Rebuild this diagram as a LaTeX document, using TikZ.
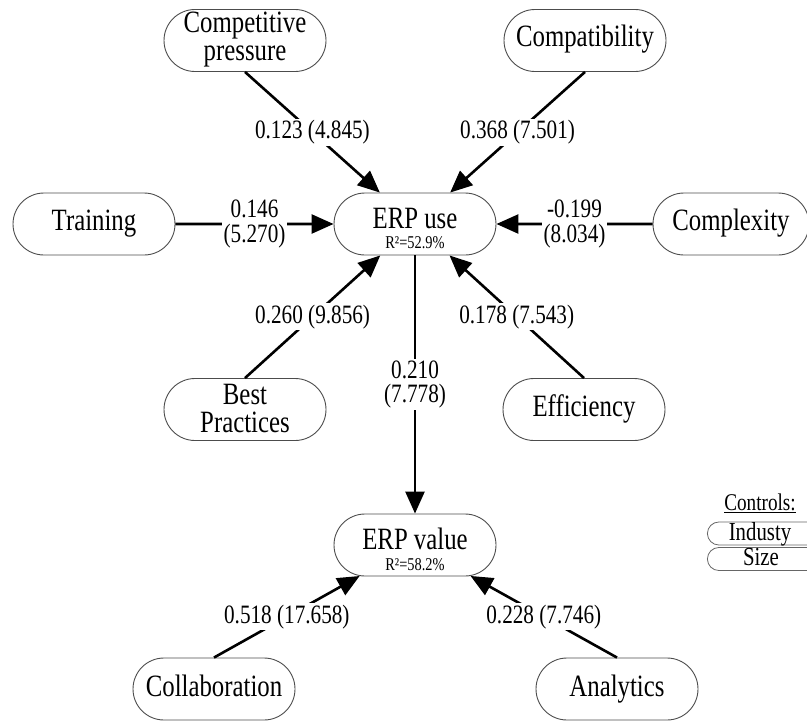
\documentclass[tikz,border=0pt]{standalone}
\usepackage{fontspec}
\setmainfont{Liberation Serif}[FakeStretch=0.8]
\usetikzlibrary{shapes.misc,arrows.meta,calc}
\begin{document}
\begin{tikzpicture}[x=1pt,y=-1pt,
  factor/.style={rounded rectangle, draw=black!70, line width=0.9pt,
    minimum width=162pt, minimum height=62pt, inner sep=0pt},
  ctrlbox/.style={rounded rectangle, draw=black!60, line width=0.8pt,
    minimum width=130pt, minimum height=23pt, inner sep=0pt, anchor=west},
  nametext/.style={anchor=base, inner sep=0pt, font=\fontsize{31}{31}\selectfont},
  twoline/.style={anchor=center, inner sep=0pt, align=center, font=\fontsize{31}{28}\selectfont},
  rsquare/.style={anchor=center, inner sep=0pt, align=center, font=\fontsize{31}{20.5}\selectfont},
  ctrltext/.style={anchor=base, inner sep=0pt, font=\fontsize{26}{26}\selectfont},
  link/.style={line width=2.6pt, -{Triangle[length=22pt,width=19pt]}},
  coef/.style={fill=white, inner sep=1.5pt, align=center,
    font=\fontsize{26.5}{24.5}\selectfont},
]
\clip (0,0) rectangle (807,721);

% constructs
\node[factor] (cp) at (245,40.5) {};
\node[twoline] (cpt) at ($(cp)+(0,-0.5)$) {Competitive\\pressure};

\node[factor] (cmp) at (585,40.5) {};
\node[nametext] (cmpt) at ($(cmp)+(0,6)$) {Compatibility};

\node[factor] (tr) at (94,224) {};
\node[nametext] (trt) at ($(tr)+(0,6)$) {Training};

\node[factor] (use) at (415,224) {};
\node[rsquare] (uset) at ($(use)+(0,4.6)$) {ERP use\\{\fontsize{18}{20.5}\selectfont R²=52.9\%}};

\node[factor, minimum width=156pt] (cx) at (731,224) {};
\node[nametext] (cxt) at ($(cx)+(0,6)$) {Complexity};

\node[factor] (bp) at (245,409.5) {};
\node[twoline] (bpt) at ($(bp)+(0,-1)$) {Best\\Practices};

\node[factor] (ef) at (584,409.5) {};
\node[nametext] (eft) at ($(ef)+(0,7)$) {Efficiency};

\node[factor] (val) at (415,545) {};
\node[rsquare] (valt) at ($(val)+(0,4.3)$) {ERP value\\{\fontsize{18}{20.5}\selectfont R²=58.2\%}};

\node[factor] (col) at (214,689) {};
\node[nametext] (colt) at ($(col)+(0,7)$) {Collaboration};

\node[factor] (an) at (617,689) {};
\node[nametext] (ant) at ($(an)+(0,7)$) {Analytics};

% control variables
\node[anchor=base, inner sep=0pt, font=\fontsize{24}{24}\selectfont] (ctl) at (760,510) {\underline{Controls:}};
\node[ctrlbox] (ind) at (707,533.5) {};
\node[ctrltext] (indt) at (760,540) {Industy};
\node[ctrlbox] (sz) at (707,559) {};
\node[ctrltext] (szt) at (761,565) {Size};

% paths with coefficients (t-values)
\draw[link] (cp.south) -- node[coef] (k1) {0.123 (4.845)} (use);
\draw[link] (cmp.south) -- node[coef] (k2) {0.368 (7.501)} (use);
\draw[link] (tr) -- node[coef] (k3) {0.146\\(5.270)} (use);
\draw[link] (cx) -- node[coef] (k4) {-0.199\\(8.034)} (use);
\draw[link] (bp.north) -- node[coef] (k5) {0.260 (9.856)} (use);
\draw[link] (ef.north) -- node[coef] (k6) {0.178 (7.543)} (use);
\draw[link] (use) -- node[coef] (k7) {0.210\\(7.778)} (val);
\draw[link] (col.north) -- node[coef] (k8) {0.518 (17.658)} (val);
\draw[link] (an.north) -- node[coef] (k9) {0.228 (7.746)} (val);
\end{tikzpicture}
\end{document}
